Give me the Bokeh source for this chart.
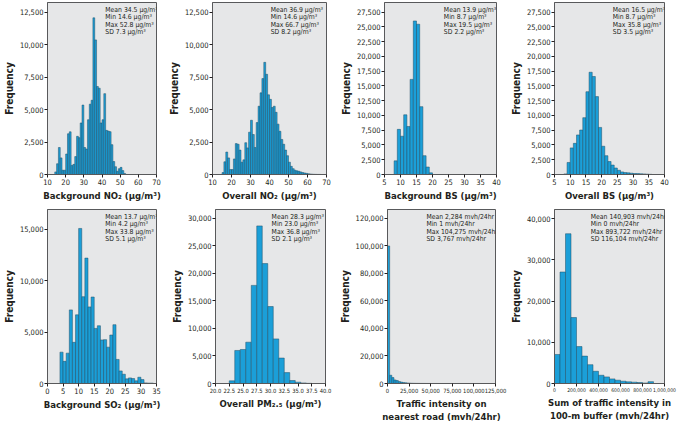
from bokeh.plotting import figure
from bokeh.layouts import column, row
from bokeh.models import Range1d, FixedTicker, NumeralTickFormatter, Label
from bokeh.embed import file_html
from bokeh.resources import INLINE

# ---------------- data ----------------
bg_no2_start, bg_no2_bin = 14, 1
bg_no2_counts = [200, 830, 2080, 1280, 330, 330, 1580, 3140, 3290, 700, 780, 1380,
                 2940, 2840, 3970, 5350, 2080, 1960, 4220, 5420, 5720, 12070, 10370,
                 6780, 6650, 3970, 4220, 6230, 3400, 3350, 3300, 2300, 1000, 600, 250,
                 450, 550, 300, 80]

ov_no2_start, ov_no2_bin = 15, 1
ov_no2_counts = [150, 980, 1730, 1280, 380, 380, 1200, 2380, 2330, 1880, 950, 1130,
                 2450, 2050, 3260, 4180, 3080, 2080, 4000, 5260, 6290, 7390, 8640,
                 7720, 6140, 5790, 5160, 5260, 4790, 3880, 3330, 2700, 2330, 1880,
                 1450, 950, 630, 450, 330, 280, 250, 200, 150, 120, 90, 60, 40, 25,
                 15, 10, 5, 5]

bg_bs_start, bg_bs_bin = 8, 1
bg_bs_counts = [2310, 7650, 6490, 10120, 8140, 16120, 26020, 25470, 11500, 3190, 1270, 280]

ov_bs_start, ov_bs_bin = 8, 1
ov_bs_counts = [100, 2040, 4510, 5280, 6710, 7540, 9630, 14030, 17330, 16610, 13200,
                7980, 4790, 3190, 2200, 1600, 1100, 720, 440, 330, 280, 220, 160, 150,
                120, 100, 60, 30]

bg_so2_start, bg_so2_bin = 4, 1
bg_so2_counts = [3045, 2150, 2950, 7150, 4000, 6670, 15060, 8430, 12180, 7440, 8400,
                 5350, 5610, 4230, 4260, 3530, 4710, 5710, 2340, 1220, 900, 450, 545,
                 480, 260, 610, 380, 60, 40, 40]

ov_pm25_start, ov_pm25_bin = 22.5, 1
ov_pm25_counts = [480, 6000, 6180, 7500, 17820, 28620, 21780, 13980, 8100, 4620, 1980,
                  540, 240, 100, 30]

traffic_road_start, traffic_road_bin = 0, 2500
traffic_road_counts = [100000, 6000, 4300, 2600, 2200, 1400, 1000, 700, 500, 350, 250,
                       180, 130, 100, 80, 60, 50, 40, 30, 25, 20, 15, 12, 10, 8, 7, 6,
                       5, 5, 4, 4, 3, 3, 3, 2, 2, 2, 2, 1, 1, 1, 1]

traffic_buf_start, traffic_buf_bin = 0, 50000
traffic_buf_counts = [7040, 27040, 36320, 16000, 8960, 6640, 4560, 2960, 2000, 1600,
                      1120, 800, 560, 400, 320, 240, 120, 450]

x_labels = ["Background NO\u2082 (\u03bcg/m\u00b3)", "Overall NO\u2082 (\u03bcg/m\u00b3)",
            "Background BS (\u03bcg/m\u00b3)", "Overall BS (\u03bcg/m\u00b3)",
            "Background SO\u2082 (\u03bcg/m\u00b3)", "Overall PM\u2082.\u2085 (\u03bcg/m\u00b3)",
            "Traffic intensity on\nnearest road (mvh/24hr)",
            "Sum of traffic intensity in\n100-m buffer (mvh/24hr)"]

stats = [
    ["Mean 34.5 \u03bcg/m\u00b3", "Min 14.6 \u03bcg/m\u00b3", "Max 52.8 \u03bcg/m\u00b3", "SD 7.3 \u03bcg/m\u00b3"],
    ["Mean 36.9 \u03bcg/m\u00b3", "Min 14.6 \u03bcg/m\u00b3", "Max 66.7 \u03bcg/m\u00b3", "SD 8.2 \u03bcg/m\u00b3"],
    ["Mean 13.9 \u03bcg/m\u00b3", "Min 8.7 \u03bcg/m\u00b3", "Max 19.5 \u03bcg/m\u00b3", "SD 2.2 \u03bcg/m\u00b3"],
    ["Mean 16.5 \u03bcg/m\u00b3", "Min 8.7 \u03bcg/m\u00b3", "Max 35.8 \u03bcg/m\u00b3", "SD 3.5 \u03bcg/m\u00b3"],
    ["Mean 13.7 \u03bcg/m\u00b3", "Min 4.2 \u03bcg/m\u00b3", "Max 33.8 \u03bcg/m\u00b3", "SD 5.1 \u03bcg/m\u00b3"],
    ["Mean 28.3 \u03bcg/m\u00b3", "Min 23.0 \u03bcg/m\u00b3", "Max 36.8 \u03bcg/m\u00b3", "SD 2.1 \u03bcg/m\u00b3"],
    ["Mean 2,284 mvh/24hr", "Min 1 mvh/24hr", "Max 104,275 mvh/24hr", "SD 3,767 mvh/24hr"],
    ["Mean 140,903 mvh/24hr", "Min 0 mvh/24hr", "Max 893,722 mvh/24hr", "SD 116,104 mvh/24hr"],
]

x_ticks = [list(range(10, 71, 10)), list(range(10, 71, 10)),
           list(range(5, 41, 5)), list(range(5, 41, 5)),
           list(range(0, 36, 5)), [20 + 2.5 * i for i in range(9)],
           list(range(0, 125001, 25000)), list(range(0, 1000001, 200000))]
y_ticks = [list(range(0, 12501, 2500)), list(range(0, 12501, 2500)),
           list(range(0, 27501, 2500)), list(range(0, 27501, 2500)),
           list(range(0, 15001, 5000)), list(range(0, 30001, 5000)),
           list(range(0, 120001, 20000)), list(range(0, 40001, 10000))]

series = [(bg_no2_start, bg_no2_bin, bg_no2_counts), (ov_no2_start, ov_no2_bin, ov_no2_counts),
          (bg_bs_start, bg_bs_bin, bg_bs_counts), (ov_bs_start, ov_bs_bin, ov_bs_counts),
          (bg_so2_start, bg_so2_bin, bg_so2_counts), (ov_pm25_start, ov_pm25_bin, ov_pm25_counts),
          (traffic_road_start, traffic_road_bin, traffic_road_counts),
          (traffic_buf_start, traffic_buf_bin, traffic_buf_counts)]

# ---------------- layout / style ----------------
x_ranges = [(10, 70), (10, 70), (5, 40), (5, 40), (0, 35), (20, 40), (0, 125000), (0, 1000000)]
y_tops = [13250, 13250, 29150, 29150, 16900, 31600, 126500, 42200]
x_fmts = ["0", "0", "0", "0", "0", "0.0", "0,0", "0,0"]
x_tick_sizes = ["7.5px"] * 5 + ["5.8px", "5.8px", "5px"]
stat_pos = [0.53, 0.51, 0.53, 0.53, 0.53, 0.51, 0.36, 0.33]
stat_size = "6.8px"
widths = [165, 172, 170, 171, 168, 168, 171, 171]
lefts = [37, 36, 36, 36, 37, 36, 40, 36]
rights = [9, 11, 11, 14, 12, 11, 12, 14]

NARROW = "DejaVu Sans Condensed"
FILL = "#1b9fd8"
EDGE = "#1f4e66"
BG = "#e6e7e8"
INK = "#231f20"


def make(i):
    top_row = i < 4
    h = 204 if top_row else 220
    p = figure(width=widths[i], height=h, output_backend="svg", toolbar_location=None,
               x_range=Range1d(*x_ranges[i]), y_range=Range1d(0, y_tops[i]),
               min_border_left=lefts[i], min_border_right=rights[i],
               min_border_top=2 if top_row else 5,
               min_border_bottom=30 if top_row else 41)
    p.background_fill_color = BG
    p.border_fill_color = "white"
    p.outline_line_color = "#58595b"
    p.outline_line_width = 1
    p.grid.visible = False

    start, binw, counts = series[i]
    edges = [start + k * binw for k in range(len(counts) + 1)]
    p.quad(left=edges[:-1], right=edges[1:], bottom=0, top=counts,
           fill_color=FILL, line_color=EDGE, line_width=0.5)

    for ax in (p.xaxis[0], p.yaxis[0]):
        ax.major_tick_out = 3
        ax.major_tick_in = 0
        ax.minor_tick_line_color = None
        ax.major_tick_line_color = INK
        ax.axis_line_color = "#58595b"
        ax.major_label_text_font = NARROW
        ax.major_label_text_font_size = "7.5px"
        ax.major_label_text_color = INK
        ax.major_label_standoff = 1
        ax.axis_label_text_font = NARROW
        ax.axis_label_text_font_style = "bold"
        ax.axis_label_text_color = INK
        ax.axis_label_standoff = 2

    p.xaxis.major_label_text_font_size = x_tick_sizes[i]
    p.xaxis.ticker = FixedTicker(ticks=x_ticks[i])
    p.yaxis.ticker = FixedTicker(ticks=y_ticks[i])
    p.xaxis.formatter = NumeralTickFormatter(format=x_fmts[i])
    p.yaxis.formatter = NumeralTickFormatter(format="0,0")
    p.xaxis.axis_label = x_labels[i]
    p.xaxis.axis_label_text_font_size = "9.5px"
    p.yaxis.axis_label = "Frequency"
    p.yaxis.axis_label_text_font_size = "10px"

    x0, x1 = x_ranges[i]
    for j, line in enumerate(stats[i]):
        p.add_layout(Label(x=x0 + stat_pos[i] * (x1 - x0), y=y_tops[i], y_offset=-(3 + j * 7.6),
                           text=line, text_baseline="top", text_align="left",
                           text_font=NARROW, text_font_size=stat_size, text_color=INK))
    return p


figs = [make(i) for i in range(8)]
layout = column(row(*figs[:4]), row(*figs[4:]))

open("out.html", "w").write(file_html(layout, INLINE))
